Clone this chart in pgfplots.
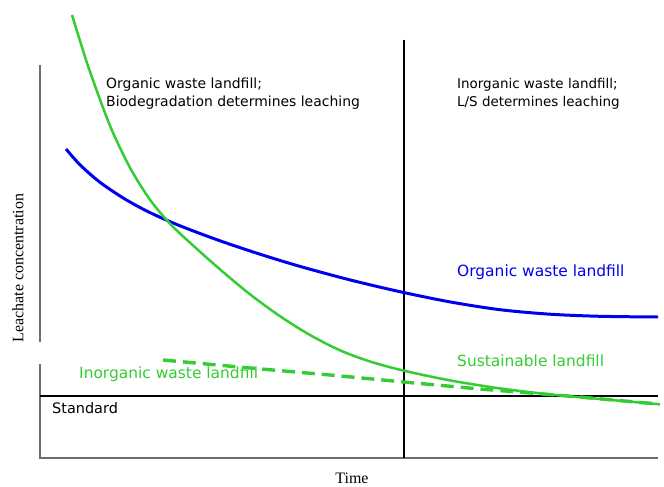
\documentclass[border=0pt]{standalone}
\usepackage{pgfplots}
\pgfplotsset{compat=1.18}
\usepackage{fontspec}
\setmainfont{DejaVu Sans}
\newfontfamily\seriffont{Liberation Serif}
\definecolor{lgreen}{RGB}{51,204,51}
\definecolor{lblue}{RGB}{0,0,238}
\definecolor{axgray}{RGB}{110,110,110}
\begin{document}
\begin{tikzpicture}
\begin{axis}[
  scale only axis, width=664bp, height=487bp,
  xmin=0, xmax=664, ymin=0, ymax=487, y dir=reverse,
  hide axis, clip=false,
]
\path (axis cs:0,0) rectangle (axis cs:664,487);
% axes frame
\addplot[axgray, line width=1.3pt] coordinates {(40,65) (40,342)};
\addplot[axgray, line width=1.3pt] coordinates {(40,364) (40,458) (658,458)};
% vertical divider
\addplot[black, line width=1.1pt] coordinates {(404,40) (404,458)};
% standard line
\addplot[black, line width=1.5pt] coordinates {(40,396) (658,396)};
% organic waste landfill (blue)
\addplot[lblue, line width=3pt, smooth] coordinates {
 (66,149) (80,164.8) (100,182.3) (125,199.1) (150,212.6) (180,225.8) (220,240.8) (260,254.2) (300,266.4) (350,279.9) (400,291.7) (450,301.9) (500,309.7) (550,314.2) (600,316.3) (658,317)};
% sustainable landfill (green solid)
\addplot[lgreen, line width=2.5pt, smooth] coordinates {
 (72,15) (81,44) (90,71.7) (110,125.7) (130,167.7) (150,199.7) (170,223.7) (190,242.7) (220,269.4) (250,294.3) (280,316.2) (310,335) (340,350.3) (370,361.5) (404,370.7) (450,380.4) (500,388.4) (550,394.4) (600,399) (660,404.3)};
% inorganic waste landfill (green dashed)
\addplot[lgreen, line width=3.4pt, dash pattern=on 13pt off 7pt] coordinates {
 (163,360) (250,368) (330,375) (404,382) (480,389) (530,393) (580,397) (658,404)};
% texts
\node[anchor=west, align=left, font=\fontsize{14}{18}\selectfont, inner sep=0pt] at (axis cs:106,94) {Organic waste landfill;\\Biodegradation determines leaching};
\node[anchor=west, align=left, font=\fontsize{13.5}{18}\selectfont, inner sep=0pt] at (axis cs:457,94) {Inorganic waste landfill;\\L/S determines leaching};
\node[anchor=west, font=\fontsize{15.5}{18}\selectfont, text=lblue, inner sep=0pt] at (axis cs:457,272) {Organic waste landfill};
\node[anchor=west, font=\fontsize{15.5}{18}\selectfont, text=lgreen, inner sep=0pt] at (axis cs:457,361) {Sustainable landfill};
\node[anchor=west, font=\fontsize{15.5}{18}\selectfont, text=lgreen, inner sep=0pt] at (axis cs:79,374) {Inorganic waste landfill};
\node[anchor=west, font=\fontsize{14.5}{18}\selectfont, inner sep=0pt] at (axis cs:52,408) {Standard};
\node[font=\seriffont\fontsize{16}{18}\selectfont, inner sep=0pt] at (axis cs:352,478) {Time};
\node[font=\seriffont\fontsize{16}{18}\selectfont, rotate=90, inner sep=0pt] at (axis cs:18,268) {Leachate concentration};
\end{axis}
\end{tikzpicture}
\end{document}
